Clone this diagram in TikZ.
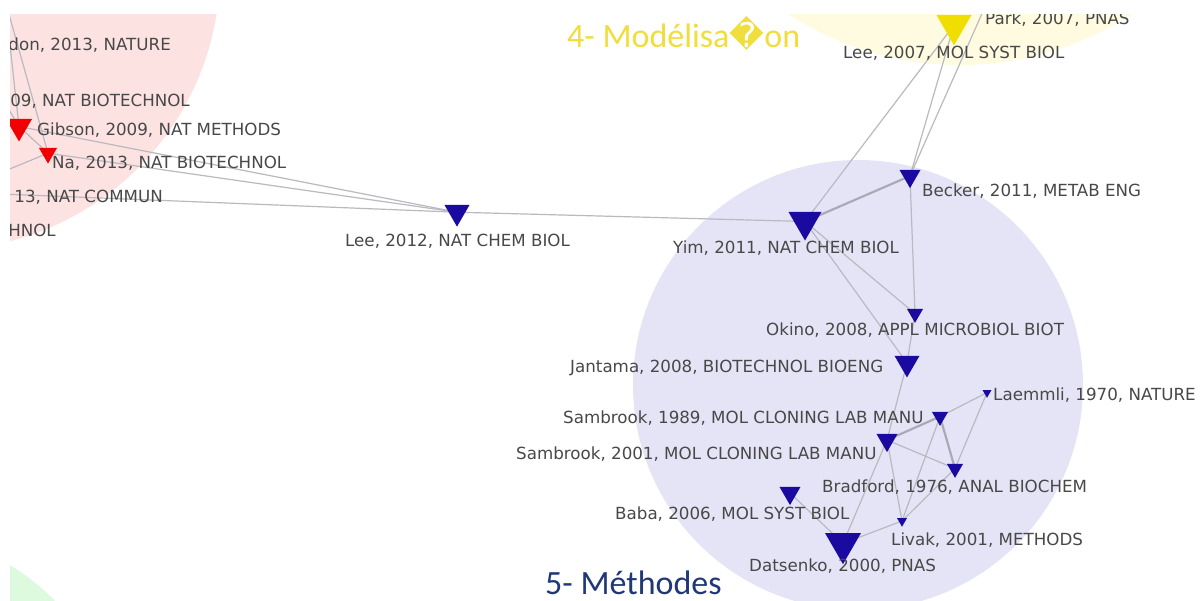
\documentclass[tikz,border=0pt]{standalone}
\usepackage{fontspec}
\setmainfont{DejaVu Sans}
\newfontfamily\titlefont{Carlito}
\newfontfamily\symfont{DejaVu Sans}
\usetikzlibrary{shapes.geometric}
\pgfdeclarelayer{back}
\pgfdeclarelayer{mid}
\pgfsetlayers{back,mid,main}
\definecolor{nblue}{RGB}{26,10,160}
\definecolor{nred}{RGB}{240,0,0}
\definecolor{nyellow}{RGB}{240,222,0}
\definecolor{lblgray}{RGB}{72,72,72}
\definecolor{edgegray}{RGB}{185,185,192}
\definecolor{edgegraydark}{RGB}{170,170,182}
\definecolor{cpink}{RGB}{253,226,226}
\definecolor{clav}{RGB}{228,228,246}
\definecolor{cyel}{RGB}{255,251,225}
\definecolor{cgreen}{RGB}{222,250,222}
\definecolor{ttlyellow}{RGB}{240,222,60}
\definecolor{ttlblue}{RGB}{32,56,120}
\tikzset{
  tri/.style={regular polygon, regular polygon sides=3, shape border rotate=180,
    inner sep=0pt, draw=none, minimum size=#1},
  tb/.style={tri=#1, fill=nblue},
  tr/.style={tri=#1, fill=nred},
  ty/.style={tri=#1, fill=nyellow},
  lbl/.style={anchor=west, inner sep=0pt, text=lblgray,
    font=\fontsize{16.7}{18}\selectfont},
  lble/.style={lbl, anchor=east},
  ln/.style={draw=edgegray, line width=1.2pt},
  lnthick/.style={draw=edgegraydark, line width=2.2pt},
  ttl/.style={anchor=west, inner sep=0pt, font=\titlefont\fontsize{34}{40}\selectfont},
}
\begin{document}
\begin{tikzpicture}[x=1pt,y=-1pt]
\useasboundingbox (0,0) rectangle (1201,601);

% background clusters
\begin{pgfonlayer}{back}
\fill[white] (0,0) rectangle (1201,601);
\begin{scope}
\clip (10,15) rectangle (1201,601);
\fill[cpink] (-60,-30) circle[radius=280];
\fill[clav] (858,385) circle[radius=225];
\fill[cyel] (960,-250) circle[radius=315];
\fill[cgreen] (-100,750) circle[radius=215];
\end{scope}
\end{pgfonlayer}

% nodes
\begin{scope}
\clip (10,15) rectangle (1201,601);
\node[tb=28.9] (lee12) at (457,212.2) {};
\node[tb=38.1] (yim) at (805,221.5) {};
\node[tb=24.2] (becker) at (910,176) {};
\node[tb=18.5] (okino) at (915,313.6) {};
\node[tb=28.9] (jantama) at (907,363) {};
\node[tb=10.4] (laemmli) at (987,392.6) {};
\node[tb=18.5] (samb89) at (940,416.6) {};
\node[tb=24.2] (samb01) at (887,440) {};
\node[tb=18.5] (bradford) at (955,468.6) {};
\node[tb=24.2] (baba) at (790,493) {};
\node[tb=11.5] (livak) at (902,521) {};
\node[tb=41.6] (datsenko) at (843,543.4) {};
\node[tr=30] (gibson) at (19,126.5) {};
\node[tr=20.8] (na) at (48,153.2) {};
\node[ty=40.4] (lee07) at (954,25.1) {};
\coordinate (park) at (988,0);
\coordinate (offA) at (5,0);
\coordinate (offB) at (0,173);
\coordinate (offC) at (0,95);
\coordinate (offD) at (0,194);

% labels
\node[lbl] (tlee12) at (345,241) {Lee, 2012, NAT CHEM BIOL};
\node[lbl] (tyim) at (673,248) {Yim, 2011, NAT CHEM BIOL};
\node[lbl] (tbecker) at (922,191) {Becker, 2011, METAB ENG};
\node[lbl] (tokino) at (766,330) {Okino, 2008, APPL MICROBIOL BIOT};
\node[lbl] (tjantama) at (570,368) {Jantama, 2008, BIOTECHNOL BIOENG};
\node[lbl] (tlaemmli) at (993,395) {Laemmli, 1970, NATURE};
\node[lbl] (tsamb89) at (563,418) {Sambrook, 1989, MOL CLONING LAB MANU};
\node[lbl] (tsamb01) at (516,454) {Sambrook, 2001, MOL CLONING LAB MANU};
\node[lbl] (tbradford) at (822,487) {Bradford, 1976, ANAL BIOCHEM};
\node[lbl] (tbaba) at (615,514) {Baba, 2006, MOL SYST BIOL};
\node[lbl] (tlivak) at (891,540) {Livak, 2001, METHODS};
\node[lbl] (tdatsenko) at (749,566) {Datsenko, 2000, PNAS};
\node[lbl] (tlee07) at (843,53) {Lee, 2007, MOL SYST BIOL};
\node[lbl] (tpark) at (985,19) {Park, 2007, PNAS};
\node[lbl] (tgibson) at (37,130) {Gibson, 2009, NAT METHODS};
\node[lbl] (tna) at (52,163) {Na, 2013, NAT BIOTECHNOL};
\node[lble] (tp1) at (171,45) {don, 2013, NATURE};
\node[lble] (tp2) at (190,101) {09, NAT BIOTECHNOL};
\node[lble] (tp3) at (163,197) {13, NAT COMMUN};
\node[lble] (tp4) at (56,230) {HNOL};
\end{scope}

% edges
\begin{pgfonlayer}{mid}
\begin{scope}
\clip (10,15) rectangle (1201,601);
\draw[ln] (offA) -- (gibson.center);
\draw[ln] (offA) -- (na.center);
\draw[ln] (offB) -- (na.center);
\draw[ln] (offC) -- (gibson.center);
\draw[ln] (gibson.center) -- (na.center);
\draw[ln] (gibson.center) -- (lee12.center);
\draw[ln] (na.center) -- (lee12.center);
\draw[ln] (offD) -- (lee12.center);
\draw[ln] (lee12.center) -- (yim.center);
\draw[lnthick] (yim.center) -- (becker.center);
\draw[ln] (yim.center) -- (lee07.center);
\draw[ln] (becker.center) -- (lee07.center);
\draw[ln] (becker.center) -- (park);
\draw[ln] (becker.center) -- (okino.center);
\draw[ln] (yim.center) -- (okino.center);
\draw[ln] (yim.center) -- (jantama.center);
\draw[ln] (okino.center) -- (jantama.center);
\draw[ln] (jantama.center) -- (samb01.center);
\draw[lnthick] (samb01.center) -- (samb89.center);
\draw[ln] (samb89.center) -- (laemmli.center);
\draw[lnthick] (samb89.center) -- (bradford.center);
\draw[ln] (laemmli.center) -- (bradford.center);
\draw[ln] (samb01.center) -- (bradford.center);
\draw[ln] (samb01.center) -- (livak.center);
\draw[ln] (samb01.center) -- (datsenko.center);
\draw[ln] (samb89.center) -- (livak.center);
\draw[ln] (livak.center) -- (bradford.center);
\draw[ln] (livak.center) -- (datsenko.center);
\draw[ln] (baba.center) -- (datsenko.center);
\end{scope}
\end{pgfonlayer}

% titles
\node[ttl, text=ttlyellow] (t4) at (567,33) {4- Modélisa{\symfont\symbol{"FFFD}}on};
\node[ttl, text=ttlblue] (t5) at (545,583) {5- Méthodes};
\end{tikzpicture}
\end{document}
